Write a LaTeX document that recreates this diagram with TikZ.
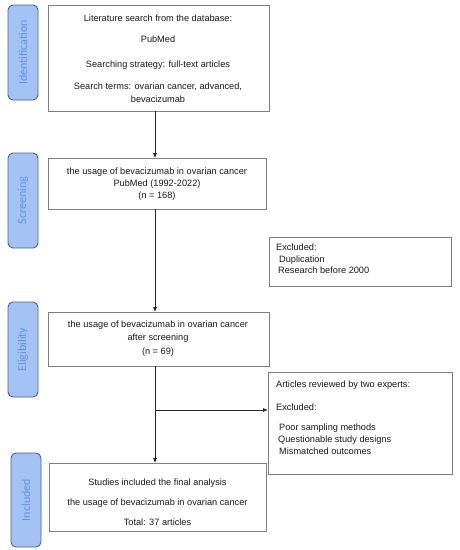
\documentclass[tikz,border=0pt]{standalone}
\usepackage{fontspec}
\setmainfont{Liberation Sans}
\newfontfamily\labelfont{Carlito}
\usetikzlibrary{arrows.meta}
\definecolor{lblfill}{HTML}{A4C2F4}
\definecolor{lbltext}{HTML}{5F93E6}
\definecolor{lbldraw}{HTML}{44638F}
\definecolor{boxdraw}{HTML}{808080}
\definecolor{txt}{HTML}{1A1A1A}
\begin{document}
\begin{tikzpicture}[x=1pt,y=-1pt,
  stage/.style={draw=lbldraw, line width=0.9pt, fill=lblfill, rounded corners=5pt,
    minimum width=30pt, minimum height=95pt, inner sep=0pt},
  stagetext/.style={rotate=90, font=\labelfont\fontsize{12}{14}\selectfont, text=lbltext, inner sep=0pt},
  flowbox/.style={draw=boxdraw, line width=0.8pt, fill=white, inner sep=0pt},
  ctext/.style={align=center, font=\fontsize{9.2}{13}\selectfont, text=txt, inner sep=0pt},
  ltext/.style={align=left, font=\fontsize{9.2}{12}\selectfont, text=txt, inner sep=0pt, anchor=north west},
  link/.style={draw=black!85, line width=0.8pt, -{Triangle[length=4.5pt,width=3.5pt]}}
]
\useasboundingbox (0,0) rectangle (460,550);
\fill[white] (0,0) rectangle (460,550);

% stage labels
\node[stage, minimum height=95pt] (sid) at (23,52.5) {};
\node[stagetext] (sidt) at (sid.center) {Identification};
\node[stage, minimum height=95pt] (ssc) at (23,200.5) {};
\node[stagetext] (ssct) at (ssc.center) {Screening};
\node[stage, minimum height=95pt] (sel) at (23,349.5) {};
\node[stagetext] (selt) at (sel.center) {Eligibility};
\node[stage, minimum height=94pt] (sin) at (26,500) {};
\node[stagetext] (sint) at (sin.center) {Included};

% main boxes
\node[flowbox, minimum width=221pt, minimum height=106pt] (b1) at (158.5,58) {};
\node[ctext] (t1) at (158,58.5) {Literature search from the database:\\[8pt]
PubMed\\[12pt]
Searching strategy: full-text articles\\[9pt]
Search terms: ovarian cancer, advanced,\\
bevacizumab};

\node[flowbox, minimum width=218pt, minimum height=51pt] (b2) at (157,183.5) {};
\node[ctext, font=\fontsize{9.2}{12}\selectfont] (t2) at (157,184) {the usage of bevacizumab in ovarian cancer\\
PubMed (1992-2022)\\
(n = 168)};

\node[flowbox, minimum width=221pt, minimum height=54pt] (b3) at (158.5,339) {};
\node[ctext, font=\fontsize{9.2}{13.5}\selectfont] (t3) at (158,338.5) {the usage of bevacizumab in ovarian cancer\\
after screening\\
(n = 69)};

\node[flowbox, minimum width=217pt, minimum height=68pt] (b4) at (157.5,497) {};
\node[ctext, font=\fontsize{9.2}{20}\selectfont] (t4) at (157.5,502) {Studies included the final analysis\\
the usage of bevacizumab in ovarian cancer\\
Total: 37 articles};

% side boxes
\node[flowbox, minimum width=182pt, minimum height=49pt] (e1) at (360,261.5) {};
\node[ltext] (e1t) at (276,244) {Excluded:\\
\hspace*{3pt}Duplication\\[-1pt]
\hspace*{2pt}Research before 2000};

\node[flowbox, minimum width=184pt, minimum height=102pt] (e2) at (360,423) {};
\node[ltext] (e2t) at (276,381) {Articles reviewed by two experts:\\[11pt]
Excluded:\\[8pt]
\hspace*{3pt}Poor sampling methods\\
\hspace*{2pt}Questionable study designs\\
\hspace*{3pt}Mismatched outcomes};

% connectors
\coordinate (br) at (155,410);
\draw[link] (b1.south -| br) -- (b2.north -| br);
\draw[link] (b2.south -| br) -- (b3.north -| br);
\draw[link] (b3.south -| br) -- (b4.north -| br);
\draw[link] (br) -- (br -| e2.west);
\end{tikzpicture}
\end{document}
